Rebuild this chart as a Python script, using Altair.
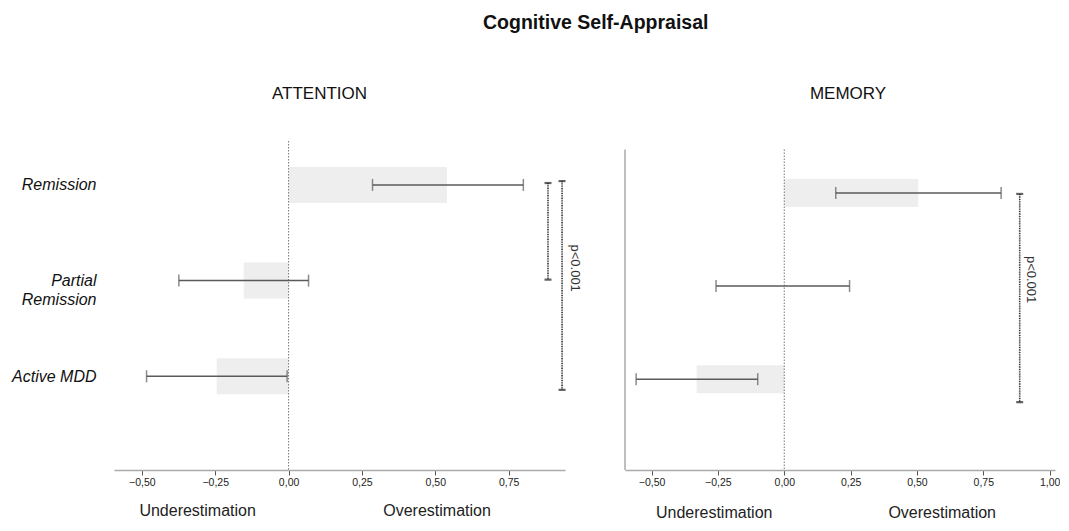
import json
import altair as alt
import pandas as pd

# ---- data ----
categories = ["Remission", "Partial Remission", "Active MDD"]
cat_rank = [3, 2, 1]  # top to bottom order

att_mean = [0.54, -0.153, -0.245]
att_lo = [0.286, -0.374, -0.484]
att_hi = [0.80, 0.068, -0.005]

mem_mean = [0.505, 0.0, -0.33]
mem_lo = [0.194, -0.257, -0.558]
mem_hi = [0.817, 0.246, -0.10]

att_ticks = [-0.5, -0.25, 0.0, 0.25, 0.5, 0.75]
mem_ticks = [-0.5, -0.25, 0.0, 0.25, 0.5, 0.75, 1.0]

# significance brackets (x in data units, y in category-rank units)
att_br_x = [0.884, 0.932]
att_br_top = [3.02, 3.04]
att_br_bot = [2.01, 0.858]
mem_br_x = [0.887]
mem_br_top = [2.99]
mem_br_bot = [0.753]

p_text = "p<0.001"
att_p = (0.976, 2.13)
mem_p = (0.929, 2.07)

side_text = ["Underestimation", "Overestimation"]
att_side_x = [-0.31, 0.506]
mem_side_x = [-0.264, 0.595]

FONT = "Liberation Sans"
H = 329

label_map = {3: "Remission", 2: ["Partial", "Remission"], 1: "Active MDD"}
label_expr = " : ".join(
    f"datum.value == {k} ? {json.dumps(v)}" for k, v in label_map.items()
) + " : ''"


def panel(title, mean, lo, hi, xdom, ticks, ydom, bar_size, bx, btop, bbot,
          ppos, side_x, width, show_labels, title_dx, side_dy, top_px):
    df = pd.DataFrame({"cat": categories, "ypos": cat_rank, "mean": mean,
                       "lo": lo, "hi": hi, "base": [0.0] * len(categories)})
    xscale = alt.Scale(domain=xdom, nice=False, zero=False)
    yscale = alt.Scale(domain=ydom, nice=False, zero=False)
    xaxis = alt.Axis(values=ticks, title=None, grid=False,
                     labelExpr="replace(format(datum.value, '.2f'), '.', ',')",
                     tickSize=5, tickColor="#555", domainColor="#aaa",
                     domainWidth=1.5, labelFontSize=10.5, labelFont=FONT,
                     labelColor="#222", labelPadding=2)
    if show_labels:
        yaxis = alt.Axis(values=[1, 2, 3], labelExpr=label_expr, title=None,
                         ticks=False, domain=False, grid=False,
                         labelFontStyle="italic", labelFontSize=16,
                         labelFont=FONT, labelColor="#111", labelPadding=18,
                         labelLineHeight=19)
    else:
        yaxis = None
    X = lambda f: alt.X(f, type="quantitative", scale=xscale, axis=xaxis)
    Y = lambda f: alt.Y(f, type="quantitative", scale=yscale, axis=yaxis)

    base = alt.Chart(df)
    bars = base.mark_bar(color="#eeeeee", size=bar_size, orient="horizontal").encode(
        x=X("base"), x2="mean", y=Y("ypos"))
    zero = alt.Chart(pd.DataFrame({"z": [0.0]})).mark_rule(
        color="#777", strokeDash=[1.5, 1.5], strokeWidth=1).encode(
        x=X("z"), y=alt.value(top_px), y2=alt.value(H))
    err = base.mark_rule(color="#5a5a5a", strokeWidth=1.5).encode(
        x=X("lo"), x2="hi", y=Y("ypos"))
    caps = base.transform_fold(["lo", "hi"], as_=["k", "v"]).mark_tick(
        orient="vertical", size=12, thickness=1.5, color="#5a5a5a").encode(
        x=X("v"), y=Y("ypos"))

    bdf = pd.DataFrame({"bx": bx, "btop": btop, "bbot": bbot})
    br = alt.Chart(bdf).mark_rule(color="#333", strokeWidth=1.6,
                                  strokeDash=[1, 0.7]).encode(
        x=X("bx"), y=Y("btop"), y2="bbot")
    brcaps = alt.Chart(bdf).transform_fold(["btop", "bbot"], as_=["k", "v"]).mark_tick(
        orient="horizontal", size=7, thickness=2.2, color="#222").encode(
        x=X("bx"), y=Y("v"))
    ptxt = alt.Chart(pd.DataFrame({"px": [ppos[0]], "py": [ppos[1]], "t": [p_text]})).mark_text(
        angle=90, fontSize=13, font=FONT, color="#333", align="center",
        baseline="middle").encode(x=X("px"), y=Y("py"), text="t")
    side = alt.Chart(pd.DataFrame({"sx": side_x, "t": side_text})).mark_text(
        fontSize=16, font=FONT, color="#222", baseline="middle").encode(
        x=X("sx"), y=alt.value(H + side_dy), text="t")

    layers = [bars, zero, err, caps, br, brcaps, ptxt, side]
    if not show_labels:
        yline = alt.Chart(pd.DataFrame({"a": [xdom[0]]})).mark_rule(
            color="#aaa", strokeWidth=1.5).encode(
            x=X("a"), y=alt.value(top_px), y2=alt.value(H))
        layers.insert(0, yline)
    return alt.layer(*layers).properties(
        width=width, height=H,
        title=alt.TitleParams(title, fontSize=17, font=FONT, fontWeight="normal",
                              color="#111", anchor="middle", dx=title_dx, offset=38))


left = panel("ATTENTION", att_mean, att_lo, att_hi, [-0.595, 0.942], att_ticks,
             [0.0725, 3.407], 36, att_br_x, att_br_top, att_br_bot, att_p,
             att_side_x, 451, True, -20, 41, 0)
right = panel("MEMORY", mem_mean, mem_lo, mem_hi, [-0.60, 1.02], mem_ticks,
              [0.078, 3.505], 28, mem_br_x, mem_br_top, mem_br_bot, mem_p,
              mem_side_x, 430, False, 8, 43, 8.5)

chart = alt.hconcat(left, right, spacing=60, bounds="flush").properties(
    title=alt.TitleParams("Cognitive Self-Appraisal", fontSize=19.5, font=FONT,
                          fontWeight="bold", color="#111", anchor="middle",
                          dx=60, offset=51),
    padding={"left": 3, "right": 0, "top": 5, "bottom": 0},
).configure_view(stroke=None)

chart.save("out.html", embed_options={"renderer": "svg", "actions": False})
